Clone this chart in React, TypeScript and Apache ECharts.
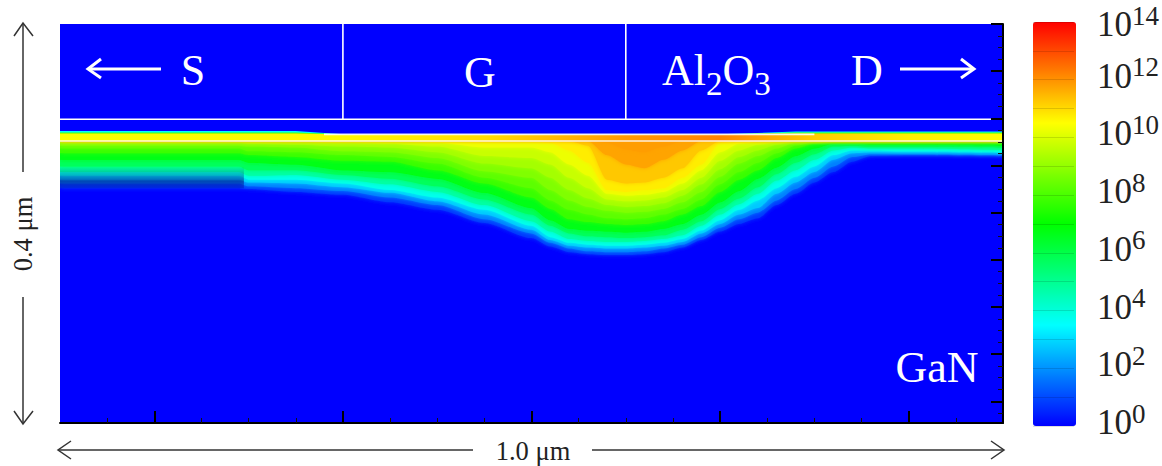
import React, { useEffect, useRef } from "react";
import * as echarts from "echarts";

// horizontal position along the device, nm
const columnsNm = [0, 100, 190, 200, 250, 300, 350, 400, 450, 500, 520, 540, 560, 580, 600, 620, 640, 660, 680, 700, 720, 740, 760, 780, 800, 820, 840, 860, 900, 1000];

// depth (nm below the top of the frame) of each concentration contour, log10 level in the name
const contour0p5 = [174, 174, 174, 175, 178, 181, 189, 197, 211, 227, 236, 242, 244, 245, 245, 244, 242, 237, 229, 220, 212, 206, 192, 180, 168, 157, 146, 140, 139, 140];
const contour1p5 = [169, 169, 169, 172, 174, 177, 184, 192, 207, 222, 232, 238, 241, 242, 242, 241, 238, 234, 226, 216, 207, 200, 187, 175, 163, 151, 141, 138, 138, 139];
const contour2p5 = [165, 165, 165, 168, 169, 173, 179, 188, 202, 218, 229, 235, 237, 238, 238, 237, 235, 231, 222, 212, 202, 195, 180, 168, 157, 144, 137, 136, 136, 137];
const contour3p5 = [161, 161, 161, 165, 165, 169, 176, 184, 197, 214, 226, 232, 234, 235, 235, 234, 232, 228, 219, 208, 197, 187, 174, 162, 151, 139, 134, 134, 135, 136];
const contour4p5 = [157, 157, 157, 161, 160, 165, 170, 178, 192, 209, 220, 228, 230, 231, 231, 230, 228, 224, 214, 202, 191, 180, 166, 155, 144, 134, 131, 132, 132, 134];
const contour5p5 = [151, 151, 151, 155, 155, 160, 164, 172, 186, 202, 214, 222, 225, 226, 227, 226, 224, 218, 209, 196, 185, 173, 159, 147, 138, 130, 129, 130, 130, 131];
const contour6p5 = [144, 144, 144, 147, 149, 155, 157, 164, 179, 195, 208, 217, 219, 220, 221, 220, 217, 212, 202, 189, 177, 164, 152, 140, 132, 127, 127, 128, 128, 129];
const contour7p5 = [137, 137, 137, 139, 141, 145, 146, 155, 169, 184, 196, 207, 210, 212, 213, 212, 209, 202, 193, 178, 165, 155, 142, 132, 127, 125, 125, 125, 125, 125];
const contour8 = [132, 132, 132, 135, 136, 139, 141, 148, 163, 174, 187, 197, 202, 206, 207, 206, 202, 196, 186, 170, 157, 147, 137, 129, 125, 124, 124, 124, 124, 124];
const contour8p5 = [129, 129, 129, 130, 131, 135, 136, 142, 156, 163, 176, 187, 194, 198, 200, 199, 196, 189, 178, 162, 148, 140, 132, 126, 124, 123, 123, 123, 123, 123];
const contour9 = [126, 126, 126, 127, 128, 130, 131, 136, 148, 153, 163, 176, 185, 192, 194, 193, 190, 182, 170, 154, 141, 134, 128, 124, 123, 123, 123, 123, 123, 123];
const contour9p5 = [124, 124, 124, 125, 125, 126, 127, 130, 140, 142, 149, 163, 174, 186, 188, 187, 184, 176, 163, 145, 134, 128, 125, 124, 123, 123, 123, 123, 123, 123];
const contour10 = [123, 123, 123, 123, 123, 124, 124, 126, 131, 131, 136, 149, 161, 180, 182, 181, 178, 169, 155, 136, 127, 125, 124, 123, 123, 123, 123, 123, 123, 123];
const contour10p5 = [123, 123, 123, 123, 123, 123, 123, 123, 124, 124, 126, 134, 147, 176, 178, 176, 174, 163, 149, 126, 124, 124, 123, 123, 123, 123, 123, 123, 123, 123];
const contour11 = [123, 123, 123, 123, 123, 123, 123, 123, 123, 123, 123, 124, 129, 165, 169, 168, 163, 153, 134, 124, 123, 123, 123, 123, 123, 123, 123, 123, 123, 123];
const contour11p5 = [123, 123, 123, 123, 123, 123, 123, 123, 123, 123, 123, 123, 124, 139, 149, 153, 144, 134, 124, 123, 123, 123, 123, 123, 123, 123, 123, 123, 123, 123];
const contour11p6 = [123, 123, 123, 123, 123, 123, 123, 123, 123, 123, 123, 123, 123, 126, 133, 136, 130, 124, 123, 123, 123, 123, 123, 123, 123, 123, 123, 123, 123, 123];

const contourTable: [number, number[]][] = [
  [0.5, contour0p5], [1.5, contour1p5], [2.5, contour2p5], [3.5, contour3p5],
  [4.5, contour4p5], [5.5, contour5p5], [6.5, contour6p5], [7.5, contour7p5],
  [8, contour8], [8.5, contour8p5], [9, contour9], [9.5, contour9p5],
  [10, contour10], [10.5, contour10p5], [11, contour11], [11.5, contour11p5], [11.6, contour11p6],
];

// the thin Al2O3 / GaN interface layer
const layerDepth = 124;
const layerXNm = [0, 300, 450, 600, 700, 800, 900, 1000];
const layerLog = [10.4, 10.6, 11, 11.9, 12.2, 11.2, 10.7, 10.5];

// edge of the layer's upper tail
const capXNm = [0, 250, 300, 700, 780, 1000];
const capYellowGreen = [116, 116, 117, 117, 116, 116];
const capCyan = [115, 115, 117, 117, 115, 115];
const capBlue = [113.5, 113.5, 117, 117, 114, 114];

// dim lower edge near the source
const dimXNm = [0, 195];
const dimDepth = [174, 174];

// structure lines
const oxideTopDepth = 101;
const interfaceDepth = 117;
const gateEdgesNm = [300, 600];

const xMajorTicks = [100, 300, 500, 700, 900];
const xMinorTicks = [50, 150, 200, 250, 350, 400, 450, 550, 600, 650, 750, 800, 850, 950];
const yMajorTicks = [0, 50, 100, 150, 200, 250, 300, 350, 400];
const yMinorTicks = [12.5, 25, 37.5, 62.5, 75, 87.5, 112.5, 125, 137.5, 162.5, 175, 187.5, 212.5, 225, 237.5, 262.5, 275, 287.5, 312.5, 325, 337.5, 362.5, 375, 387.5, 412.5];

const paletteStops = [0, 3.5, 7, 10.5, 14];
const paletteColors = [[0, 0, 255], [0, 255, 255], [0, 255, 0], [255, 255, 0], [255, 0, 0]];

function colorAt(v: number): string {
  let i = 0;
  while (i < paletteStops.length - 2 && v > paletteStops[i + 1]) i++;
  const t = Math.min(1, Math.max(0, (v - paletteStops[i]) / (paletteStops[i + 1] - paletteStops[i])));
  const c = paletteColors[i].map((a, k) => Math.round(a + (paletteColors[i + 1][k] - a) * t));
  return `rgb(${c[0]},${c[1]},${c[2]})`;
}

const SERIF = '"Liberation Serif", serif';

function area(xs: number[], ys: number[], color: any, soft = 0) {
  return {
    type: "line",
    xAxisIndex: 0,
    yAxisIndex: 0,
    symbol: "none",
    silent: true,
    smooth: soft ? 0.25 : false,
    smoothMonotone: "x",
    lineStyle: { width: 0, opacity: 0 },
    areaStyle: soft
      ? { color, opacity: 1, origin: "start", shadowBlur: soft, shadowColor: color }
      : { color, opacity: 1, origin: "start" },
    data: xs.map((x, i) => [x, ys[i]]),
  };
}

function rule(points: number[][], opacity = 1, width = 1.6) {
  return {
    type: "line",
    xAxisIndex: 0,
    yAxisIndex: 0,
    symbol: "none",
    silent: true,
    lineStyle: { color: "#ffffff", width, opacity },
    data: points,
  };
}

function buildOption() {
  const L = echarts.graphic.LinearGradient as any;
  const series: any[] = [];

  contourTable.forEach(([level, depths]) => {
    series.push(area(columnsNm, depths, colorAt(level + 0.25), 4));
  });

  series.push(
    area(dimXNm, dimDepth, new L(0, 0, 0, 1, [
      { offset: 0, color: "rgba(0,0,110,0)" },
      { offset: 0.87, color: "rgba(0,0,110,0)" },
      { offset: 0.96, color: "rgba(0,0,110,0.5)" },
      { offset: 1, color: "rgba(0,0,160,0.3)" },
    ]))
  );

  series.push(
    area(
      [0, 1000],
      [layerDepth, layerDepth],
      new L(0, 0, 1, 0, layerXNm.map((x, i) => ({ offset: x / 1000, color: colorAt(layerLog[i]) })))
    )
  );
  series.push(area(capXNm, capYellowGreen, colorAt(8)));
  series.push(area(capXNm, capCyan, colorAt(3.5)));
  series.push(area(capXNm, capBlue, colorAt(0)));

  series.push(rule([[0, oxideTopDepth], [1000, oxideTopDepth]]));
  gateEdgesNm.forEach((x) => series.push(rule([[x, 0], [x, oxideTopDepth]])));
  series.push(rule([[280, interfaceDepth], [800, interfaceDepth]], 0.9));
  series.push(rule([[0, layerDepth], [1000, layerDepth]], 0.85));

  // carrier of the colour scale
  const scaleSeriesIndex = series.length;
  series.push({ type: "scatter", xAxisIndex: 2, yAxisIndex: 2, data: [], silent: true });

  const dark = "#333333";
  const darkLine = (x1: number, y1: number, x2: number, y2: number) => ({
    type: "line",
    shape: { x1, y1, x2, y2 },
    style: { stroke: dark, lineWidth: 1.5 },
  });
  const head = (pts: number[][], stroke: string, lineWidth: number) => ({
    type: "polyline",
    shape: { points: pts },
    style: { stroke, lineWidth, fill: "none" },
  });
  const label = (text: string, x: number, y: number, fontSize = 44) => ({
    type: "text",
    x,
    y,
    style: { text, fill: "#ffffff", font: `${fontSize}px ${SERIF}`, textAlign: "center", textVerticalAlign: "middle" },
    z: 20,
  });

  const graphic: any[] = [
    { type: "line", shape: { x1: 88, y1: 69, x2: 161, y2: 69 }, style: { stroke: "#fff", lineWidth: 3 }, z: 20 },
    { ...head([[101, 59], [88, 69], [101, 78]], "#fff", 3), z: 20 },
    { type: "line", shape: { x1: 900, y1: 69, x2: 973, y2: 69 }, style: { stroke: "#fff", lineWidth: 3 }, z: 20 },
    { ...head([[961, 59], [974, 69], [961, 78]], "#fff", 3), z: 20 },
    label("S", 193, 70),
    label("G", 480, 72),
    label("D", 867, 70),
    label("GaN", 937, 367),
    {
      type: "text",
      x: 662,
      y: 70,
      z: 20,
      style: {
        text: "{n|Al}{s|2}{n|O}{s|3}",
        fill: "#ffffff",
        textVerticalAlign: "middle",
        rich: {
          n: { font: `44px ${SERIF}`, fill: "#fff", lineHeight: 60, verticalAlign: "middle" },
          s: { font: `33px ${SERIF}`, fill: "#fff", lineHeight: 60, verticalAlign: "bottom", padding: [14, 0, 0, 0] },
        },
      },
    },
    darkLine(23, 24, 23, 172),
    head([[14, 36], [23, 23], [33, 36]], dark, 1.5),
    darkLine(23, 297, 23, 423),
    head([[14, 411], [23, 424], [33, 411]], dark, 1.5),
    darkLine(59, 450, 473, 450),
    head([[71, 441], [58, 450], [71, 459]], dark, 1.5),
    darkLine(592, 450, 1003, 450),
    head([[991, 441], [1004, 450], [991, 459]], dark, 1.5),
    {
      type: "text",
      x: 533,
      y: 451,
      style: { text: "1.0 μm", fill: "#222", font: `26.5px ${SERIF}`, textAlign: "center", textVerticalAlign: "middle" },
    },
    {
      type: "text",
      x: 23,
      y: 234,
      rotation: Math.PI / 2,
      style: { text: "0.4 μm", fill: "#222", font: `26.5px ${SERIF}`, textAlign: "center", textVerticalAlign: "middle" },
    },
  ];

  const hidden = { show: false };
  const noLine = { show: false, onZero: false };
  return {
    animation: false,
    backgroundColor: "#ffffff",
    grid: [
      { left: 60, top: 24, width: 943, height: 399, show: true, backgroundColor: "#0000ff", borderWidth: 0 },
      { left: 60, top: 24, width: 943, height: 399, show: false },
      { left: 1033, top: 22, width: 43, height: 404, show: false },
    ],
    xAxis: [
      {
        type: "value", gridIndex: 0, min: 0, max: 1000, position: "bottom", z: 10,
        axisLine: { show: true, onZero: false, lineStyle: { color: "#000", width: 2 } },
        axisTick: { show: true, inside: true, length: 12, customValues: xMajorTicks, lineStyle: { color: "#000", width: 2 } },
        axisLabel: hidden,
        splitLine: hidden,
      },
      {
        type: "value", gridIndex: 1, min: 0, max: 1000, position: "bottom", z: 10,
        axisLine: noLine,
        axisTick: { show: true, inside: true, length: 5, customValues: xMinorTicks, lineStyle: { color: "#111", width: 1 } },
        axisLabel: hidden,
        splitLine: hidden,
      },
      { type: "value", gridIndex: 2, min: 0, max: 1, show: false },
    ],
    yAxis: [
      {
        type: "value", gridIndex: 0, min: 0, max: 423, inverse: true, position: "right", z: 10,
        axisLine: { show: true, onZero: false, lineStyle: { color: "#000", width: 2 } },
        axisTick: { show: true, inside: true, length: 12, customValues: yMajorTicks, lineStyle: { color: "#000", width: 2 } },
        axisLabel: hidden,
        splitLine: hidden,
      },
      {
        type: "value", gridIndex: 1, min: 0, max: 423, inverse: true, position: "right", z: 10,
        axisLine: noLine,
        axisTick: { show: true, inside: true, length: 5, customValues: yMinorTicks, lineStyle: { color: "#111", width: 1 } },
        axisLabel: hidden,
        splitLine: hidden,
      },
      {
        type: "value", gridIndex: 2, min: 0, max: 14, interval: 2, position: "right", z: 10,
        axisLine: noLine,
        axisTick: hidden,
        splitLine: { show: true, lineStyle: { color: "rgba(0,0,0,0.13)", width: 1 } },
        minorTick: { show: false, splitNumber: 2 },
        minorSplitLine: { show: true, lineStyle: { color: "rgba(0,0,0,0.13)", width: 1 } },
        axisLabel: {
          show: true,
          margin: 23,
          color: "#222",
          formatter: (v: number) => (v === 14 ? `{t|10}{u|${v}}` : `{n|10}{e|${v}}`),
          rich: {
            t: { fontFamily: SERIF, fontSize: 35, color: "#222", lineHeight: 40, verticalAlign: "bottom" },
            u: { fontFamily: SERIF, fontSize: 27, color: "#222", lineHeight: 40, verticalAlign: "top" },
            n: { fontFamily: SERIF, fontSize: 35, color: "#222", lineHeight: 52, verticalAlign: "bottom", padding: [0, 0, 12, 0] },
            e: { fontFamily: SERIF, fontSize: 27, color: "#222", lineHeight: 40, verticalAlign: "top" },
          },
        },
      },
    ],
    visualMap: {
      type: "continuous",
      seriesIndex: scaleSeriesIndex,
      min: 0,
      max: 14,
      left: 1033,
      top: 22,
      padding: 0,
      itemWidth: 43,
      itemHeight: 404,
      calculable: false,
      text: ["", ""],
      z: 1,
      inRange: { color: paletteColors.map((c) => `rgb(${c[0]},${c[1]},${c[2]})`) },
    },
    series,
    graphic,
  };
}

export default function App() {
  const ref = useRef<HTMLDivElement>(null);
  useEffect(() => {
    const chart = echarts.init(ref.current!, undefined, { renderer: "svg" });
    chart.setOption(buildOption() as any);
    return () => chart.dispose();
  }, []);
  return <div ref={ref} style={{ position: "absolute", left: 0, top: 0, width: 1162, height: 466 }} />;
}
